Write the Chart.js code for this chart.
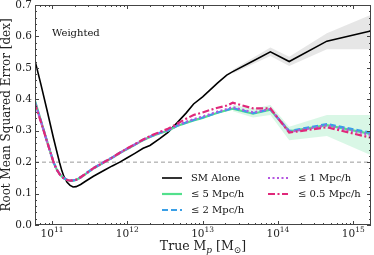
<!DOCTYPE html>
<html>
<head>
<meta charset="utf-8">
<script src="https://cdn.jsdelivr.net/npm/chart.js@4"></script>
<style>
  body { margin: 0; background: #fff; }
</style>
</head>
<body>
<canvas id="myChart" width="374" height="255"></canvas>
<script>
// log10 of true halo mass, shared grid for the curves
const massLog = [10.77, 10.85, 10.93, 11.02, 11.06, 11.10, 11.13, 11.16, 11.20, 11.24, 11.28, 11.32, 11.38, 11.45, 11.55, 11.70, 11.80, 11.90, 12.00, 12.10, 12.21, 12.30, 12.43, 12.54, 12.66, 12.78, 12.88, 13.00, 13.10, 13.20, 13.32, 13.40, 13.67, 13.90, 14.15, 14.65, 15.23];

const smAlone = [0.527, 0.450, 0.369, 0.276, 0.237, 0.199, 0.173, 0.153, 0.136, 0.126, 0.121, 0.122, 0.129, 0.140, 0.155, 0.175, 0.188, 0.200, 0.214, 0.228, 0.244, 0.253, 0.275, 0.295, 0.325, 0.356, 0.385, 0.408, 0.430, 0.452, 0.477, 0.488, 0.522, 0.551, 0.520, 0.585, 0.617];
const r5 = [0.398, 0.334, 0.270, 0.199, 0.178, 0.163, 0.154, 0.148, 0.143, 0.140, 0.141, 0.143, 0.151, 0.163, 0.180, 0.200, 0.214, 0.229, 0.242, 0.255, 0.270, 0.280, 0.292, 0.300, 0.315, 0.325, 0.333, 0.341, 0.349, 0.357, 0.365, 0.370, 0.354, 0.367, 0.298, 0.318, 0.290];
const r2 = [0.394, 0.333, 0.269, 0.200, 0.178, 0.163, 0.155, 0.149, 0.144, 0.141, 0.142, 0.144, 0.152, 0.164, 0.181, 0.202, 0.215, 0.230, 0.243, 0.256, 0.271, 0.281, 0.293, 0.301, 0.316, 0.326, 0.334, 0.342, 0.350, 0.358, 0.366, 0.372, 0.356, 0.368, 0.299, 0.321, 0.294];
const r1 = [0.392, 0.331, 0.268, 0.200, 0.177, 0.162, 0.154, 0.148, 0.143, 0.141, 0.142, 0.144, 0.152, 0.163, 0.180, 0.201, 0.214, 0.229, 0.243, 0.256, 0.271, 0.281, 0.294, 0.302, 0.317, 0.328, 0.337, 0.345, 0.353, 0.361, 0.369, 0.375, 0.358, 0.369, 0.296, 0.317, 0.287];
const r05 = [0.388, 0.330, 0.268, 0.200, 0.177, 0.162, 0.154, 0.148, 0.143, 0.141, 0.142, 0.144, 0.152, 0.164, 0.181, 0.201, 0.215, 0.230, 0.244, 0.257, 0.272, 0.283, 0.296, 0.306, 0.322, 0.338, 0.350, 0.358, 0.366, 0.373, 0.380, 0.389, 0.371, 0.371, 0.294, 0.311, 0.278];

// scatter bands (high mass bins only)
const bandLog = [13.40, 13.67, 13.90, 14.15, 14.65, 15.23];
const smLow = [0.482, 0.512, 0.538, 0.506, 0.559, 0.559];
const smHigh = [0.494, 0.532, 0.565, 0.535, 0.610, 0.668];
const r5Low = [0.362, 0.342, 0.350, 0.270, 0.283, 0.223];
const r5High = [0.382, 0.370, 0.382, 0.313, 0.350, 0.350];

const threshold = 0.2;
const xTickExp = [11, 12, 13, 14, 15];
const xRange = [10.774, 15.236];

const FONT = "'DejaVu Serif', serif";

function pts(logs, vals) {
  return logs.map((m, i) => ({ x: Math.pow(10, m), y: vals[i] }));
}

// ticks pointing inward, labels with superscripts, legend and note
const frame = {
  id: 'frame',
  afterDraw(chart) {
    const ctx = chart.ctx;
    const a = chart.chartArea;
    const xs = chart.scales.x, ys = chart.scales.y;
    ctx.save();
    ctx.strokeStyle = '#444';
    ctx.lineWidth = 1;
    ctx.strokeRect(Math.round(a.left) + 0.5, Math.round(a.top) + 0.5, Math.round(a.right - a.left) - 1, Math.round(a.bottom - a.top) - 1);

    function seg(x1, y1, x2, y2) {
      ctx.beginPath(); ctx.moveTo(x1, y1); ctx.lineTo(x2, y2); ctx.stroke();
    }
    // y ticks
    for (let i = 0; i <= 35; i++) {
      const v = i * 0.02;
      const p = Math.round(ys.getPixelForValue(v)) + 0.5;
      const len = i % 5 === 0 ? 4 : 2;
      seg(a.left, p, a.left + len, p);
      seg(a.right, p, a.right - len, p);
    }
    // x ticks
    for (let e = 10; e <= 15; e++) {
      for (let k = 1; k <= 9; k++) {
        const m = k * Math.pow(10, e);
        if (m < xs.min || m > xs.max) continue;
        const p = Math.round(xs.getPixelForValue(m)) + 0.5;
        const len = k === 1 ? 4 : 2;
        seg(p, a.bottom, p, a.bottom - len);
        seg(p, a.top, p, a.top + len);
      }
    }
    // x tick labels
    ctx.fillStyle = '#222';
    ctx.textBaseline = 'alphabetic';
    ctx.textAlign = 'left';
    xTickExp.forEach(e => {
      const p = xs.getPixelForValue(Math.pow(10, e));
      ctx.font = '10.5px ' + FONT;
      const w1 = ctx.measureText('10').width;
      ctx.font = '7.5px ' + FONT;
      const w2 = ctx.measureText(String(e)).width;
      const x0 = p - (w1 + w2) / 2;
      ctx.font = '10.5px ' + FONT;
      ctx.fillText('10', x0, 237);
      ctx.font = '7.5px ' + FONT;
      ctx.fillText(String(e), x0 + w1, 232);
    });
    // x title: True M_p [M_sun]
    const parts = [
      ['True M', '12.5px ' + FONT, 0],
      ['p', 'italic 9px ' + FONT, 2.5],
      [' [M', '12.5px ' + FONT, 0],
      ['\u2299', '9px ' + FONT, 2.5],
      [']', '12.5px ' + FONT, 0]
    ];
    let tw = 0;
    parts.forEach(pp => { ctx.font = pp[1]; tw += ctx.measureText(pp[0]).width; });
    let tx = (a.left + a.right) / 2 - tw / 2;
    parts.forEach(pp => {
      ctx.font = pp[1];
      ctx.fillText(pp[0], tx, 250 + pp[2]);
      tx += ctx.measureText(pp[0]).width;
    });

    // note
    ctx.font = '10px ' + FONT;
    ctx.textBaseline = 'middle';
    ctx.fillStyle = '#111';
    ctx.fillText('Weighted', 52, 33);

    // legend, two columns
    const ds = chart.data.datasets;
    const entries = [
      [ds[5], 162, 182, 191, 178],
      [ds[6], 162, 182, 191, 194],
      [ds[7], 162, 182, 191, 210],
      [ds[8], 268, 288, 298, 178],
      [ds[9], 268, 288, 298, 194]
    ];
    entries.forEach(en => {
      const d = en[0];
      ctx.save();
      ctx.strokeStyle = d.borderColor;
      ctx.lineWidth = d.borderWidth;
      ctx.setLineDash(d.borderDash || []);
      ctx.beginPath(); ctx.moveTo(en[1], en[4]); ctx.lineTo(en[2], en[4]); ctx.stroke();
      ctx.restore();
      ctx.fillStyle = '#111';
      ctx.fillText(d.label, en[3], en[4]);
    });
    ctx.restore();
  }
};

const ctx = document.getElementById('myChart');

var chart = new Chart(ctx, {
  type: 'line',
  data: {
    datasets: [
      { label: 'sm band hi', data: pts(bandLog, smHigh), fill: '+1', backgroundColor: 'rgba(205,205,205,0.5)', borderWidth: 0, pointRadius: 0, order: 9 },
      { label: 'sm band lo', data: pts(bandLog, smLow), fill: false, borderWidth: 0, pointRadius: 0, order: 9 },
      { label: 'r5 band hi', data: pts(bandLog, r5High), fill: '+1', backgroundColor: 'rgba(120,225,165,0.28)', borderWidth: 0, pointRadius: 0, order: 8 },
      { label: 'r5 band lo', data: pts(bandLog, r5Low), fill: false, borderWidth: 0, pointRadius: 0, order: 8 },
      { label: 'thr', data: pts(xRange, [threshold, threshold]), borderColor: '#9a9a9a', borderWidth: 1, borderDash: [4, 3], pointRadius: 0, order: 7 },
      { label: 'SM Alone', data: pts(massLog, smAlone), borderColor: '#000000', borderWidth: 1.6, pointRadius: 0, order: 6 },
      { label: '\u2264 5 Mpc/h', data: pts(massLog, r5), borderColor: '#52e08c', borderWidth: 2.2, pointRadius: 0, order: 5 },
      { label: '\u2264 2 Mpc/h', data: pts(massLog, r2), borderColor: '#3a9fe6', borderWidth: 2.2, borderDash: [6, 3], pointRadius: 0, order: 4 },
      { label: '\u2264 1 Mpc/h', data: pts(massLog, r1), borderColor: '#b456e0', borderWidth: 2.2, borderDash: [2, 2.5], pointRadius: 0, order: 3 },
      { label: '\u2264 0.5 Mpc/h', data: pts(massLog, r05), borderColor: '#e0287a', borderWidth: 2.2, borderDash: [7, 2.5, 2, 2.5], pointRadius: 0, order: 2 }
    ]
  },
  options: {
    responsive: false,
    animation: false,
    parsing: false,
    layout: { padding: { top: 5, right: 3, left: 0, bottom: 0 } },
    plugins: { legend: { display: false }, tooltip: { enabled: false } },
    scales: {
      x: {
        type: 'logarithmic',
        min: Math.pow(10, xRange[0]),
        max: Math.pow(10, xRange[1]),
        ticks: { display: false },
        grid: { display: false, drawTicks: false },
        border: { display: false },
        afterFit(s) { s.height = 30; s.paddingLeft = 0; s.paddingRight = 0; }
      },
      y: {
        min: 0,
        max: 0.7,
        ticks: {
          stepSize: 0.1,
          padding: 3,
          color: '#222',
          font: { family: FONT, size: 10.5 },
          callback: v => v.toFixed(1)
        },
        grid: { display: false, drawTicks: false },
        border: { display: false },
        title: {
          display: true,
          text: 'Root Mean Squared Error [dex]',
          color: '#222',
          font: { family: FONT, size: 12 },
          padding: { top: 0, bottom: 0 }
        },
        afterFit(s) { s.width = 35; s.paddingTop = 0; s.paddingBottom = 0; }
      }
    }
  },
  plugins: [frame]
});
</script>
</body>
</html>
